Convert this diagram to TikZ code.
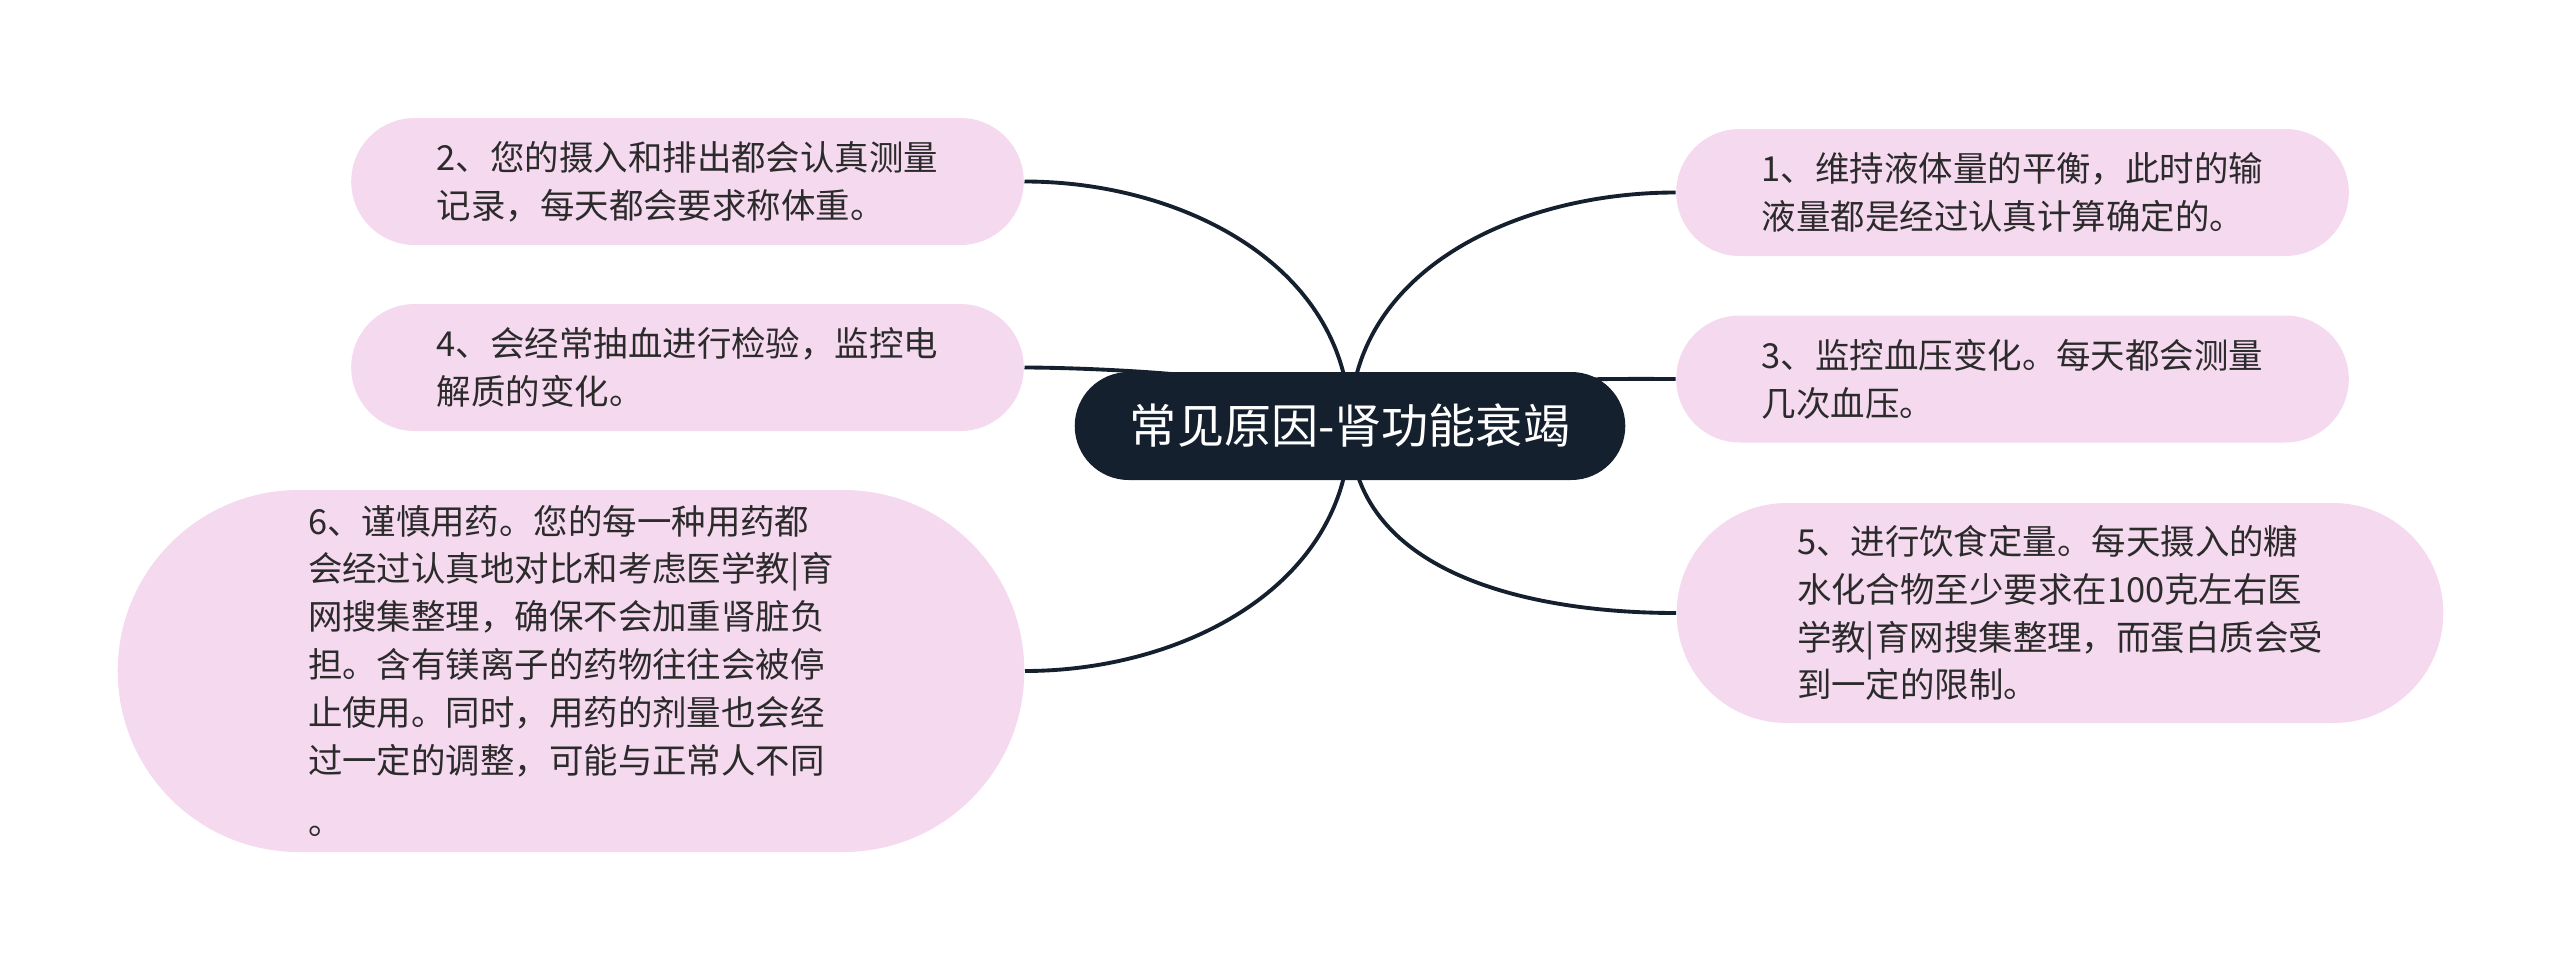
\documentclass[tikz,border=0pt]{standalone}
\usepackage{fontspec}
\usepackage{tikz}
\usetikzlibrary{positioning,shapes.misc,backgrounds}
\newfontfamily\cjk{Noto Sans CJK SC}
\definecolor{rootfill}{HTML}{15202E}
\definecolor{leaffill}{HTML}{F5D9EF}
\definecolor{leaftext}{HTML}{2B2B2B}
\tikzset{
    topic/.style={
        rounded rectangle,
        fill=rootfill,
        text=white,
        minimum width=5.74cm,
        minimum height=1.08cm,
        font=\cjk\fontsize{13.4pt}{16pt}\selectfont
    },
    leaf/.style={
        rounded rectangle,
        fill=leaffill,
        text=leaftext,
        align=left,
        minimum width=6.96cm,
        minimum height=1.27cm,
        font=\cjk\fontsize{9.8pt}{13.6pt}\selectfont
    },
    branch/.style={
        draw=rootfill,
        line width=1.1pt
    }
}

\begin{document}
\begin{tikzpicture}
  \useasboundingbox (0,0) rectangle (25.6,-9.7);

  % Central topic
  \node[topic] (root) at (13.5,-4.26) {常见原因-肾功能衰竭};

  % Left branches
  \node[leaf] (r2) at (6.875,-1.815) {2、您的摄入和排出都会认真测量\\记录，每天都会要求称体重。};
  \node[leaf] (r4) at (6.875,-3.675) {4、会经常抽血进行检验，监控电\\解质的变化。};
  \node[leaf, minimum width=9.3cm, minimum height=3.62cm] (r6) at (5.71,-6.71)
    {6、谨慎用药。您的每一种用药都\\会经过认真地对比和考虑医学教|育\\网搜集整理，确保不会加重肾脏负\\担。含有镁离子的药物往往会被停\\止使用。同时，用药的剂量也会经\\过一定的调整，可能与正常人不同\\[4pt]。};

  % Right branches
  \node[leaf] (r1) at (20.125,-1.925) {1、维持液体量的平衡，此时的输\\液量都是经过认真计算确定的。};
  \node[leaf] (r3) at (20.125,-3.79) {3、监控血压变化。每天都会测量\\几次血压。};
  \node[leaf, minimum width=7.9cm, minimum height=2.2cm] (r5) at (20.6,-6.13)
    {5、进行饮食定量。每天摄入的糖\\水化合物至少要求在100克左右医\\学教|育网搜集整理，而蛋白质会受\\到一定的限制。};

  % Connect branches (behind the nodes)
  \begin{scope}[on background layer]
    \foreach \r/\a/\l in {r2/90/1, r4/90/0.4, r6/-90/1} {
      \draw[branch] (root.center) to[out=\a, in=0, looseness=\l] (\r.east);
    }
    \foreach \r/\a/\l in {r1/90/1, r3/90/0.4, r5/-90/1} {
      \draw[branch] (root.center) to[out=\a, in=180, looseness=\l] (\r.west);
    }
  \end{scope}
\end{tikzpicture}
\end{document}
